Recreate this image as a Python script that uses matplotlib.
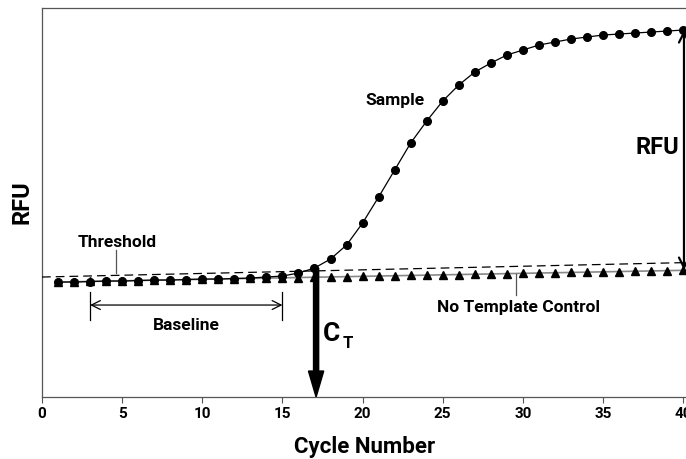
import matplotlib.pyplot as plt
from matplotlib.patches import FancyArrow

# cycle numbers and fluorescence readings (arbitrary RFU units)
cycles = list(range(1, 41))
sample_rfu = [115, 115, 115.5, 116, 116, 116.5, 117, 117, 117.5, 118,
              118, 118.5, 119, 120, 121, 124, 129, 138, 152, 174,
              200, 227, 254, 276, 296, 312, 325, 334, 342, 347,
              352, 355, 358, 360, 362, 363, 364, 365, 366, 367]
ntc_rfu = [115, 115.3, 115.6, 115.9, 116.2, 116.5, 116.8, 117.1, 117.4, 117.7,
           118, 118.3, 118.6, 118.9, 119.2, 119.5, 119.8, 120.1, 120.4, 120.7,
           121, 121.3, 121.6, 121.9, 122.2, 122.5, 122.8, 123.1, 123.4, 123.7,
           124, 124.3, 124.6, 124.9, 125.2, 125.5, 125.8, 126.1, 126.4, 126.7]
threshold_x = [0, 40.3]
threshold_y = [120, 134.5]
x_ticks = [0, 5, 10, 15, 20, 25, 30, 35, 40]
ct_cycle = 17.1
baseline_start, baseline_end = 3, 15

plt.rcParams['font.family'] = ['Roboto', 'DejaVu Sans']

fig = plt.figure(figsize=(6.86, 4.59), dpi=100)
ax = fig.add_axes([0.0612, 0.135, 0.9417, 0.8475])

ax.plot(cycles, ntc_rfu, color='#888888', lw=1.2, zorder=2)
ax.plot(cycles, ntc_rfu, '^', color='black', ms=6, zorder=3)
ax.plot(cycles, sample_rfu, '-o', color='black', lw=0.9, ms=5.5, zorder=4)
ax.plot(threshold_x, threshold_y, '--', color='black', lw=0.9, dashes=(7, 4), zorder=5)

ax.set_xlim(0, 40.3)
ax.set_ylim(0, 389)
ax.set_xticks(x_ticks)
ax.set_yticks([])
ax.tick_params(axis='x', length=4, width=0.8, color='#555555', pad=3)
for lab in ax.get_xticklabels():
    lab.set_fontfamily(['Liberation Sans Narrow', 'Roboto', 'DejaVu Sans'])
    lab.set_fontweight('bold')
    lab.set_fontsize(11)
ax.spines['right'].set_visible(False)
for s in ['left', 'top', 'bottom']:
    ax.spines[s].set_color('#555555')
    ax.spines[s].set_linewidth(0.9)

ax.set_xlabel('Cycle Number', fontsize=16, fontweight='bold', labelpad=11)
ax.set_ylabel('RFU', fontsize=17, fontweight='bold', labelpad=6)

# threshold label
ax.text(4.7, 155, 'Threshold', ha='center', va='center', fontsize=12.5, fontweight='bold')
ax.plot([4.6, 4.6], [124, 147], color='#555555', lw=0.9)

# baseline range
ax.annotate('', xy=(baseline_start, 92), xytext=(baseline_end, 92),
            arrowprops=dict(arrowstyle='<->', color='black', lw=0.9,
                            mutation_scale=16, shrinkA=0, shrinkB=0))
ax.plot([baseline_start, baseline_start], [77, 105], color='black', lw=0.9)
ax.plot([baseline_end, baseline_end], [77, 105], color='black', lw=0.9)
ax.text(9.0, 72, 'Baseline', ha='center', va='center', fontsize=12.5, fontweight='bold')

# Ct arrow
ax.add_patch(FancyArrow(ct_cycle, 129, 0, -129, width=0.32, head_width=0.95,
                        head_length=26, length_includes_head=True,
                        color='black', zorder=6))
ax.text(17.55, 63, 'C', ha='left', va='center', fontsize=19, fontweight='bold')
ax.text(18.75, 54, 'T', ha='left', va='center', fontsize=12, fontweight='bold')

# NTC label
ax.plot([29.6, 29.6], [102, 123], color='#555555', lw=0.9)
ax.text(29.7, 90, 'No Template Control', ha='center', va='center', fontsize=12.5, fontweight='bold')

# sample label
ax.text(22.0, 297, 'Sample', ha='center', va='center', fontsize=12.5, fontweight='bold')

# RFU span arrow
ax.annotate('', xy=(40.05, 367), xytext=(40.05, 127),
            arrowprops=dict(arrowstyle='<->', color='black', lw=1.6,
                            mutation_scale=18, shrinkA=0, shrinkB=0))
ax.text(38.4, 250, 'RFU', ha='center', va='center', fontsize=17, fontweight='bold')

fig.savefig('out.png', dpi=100)
